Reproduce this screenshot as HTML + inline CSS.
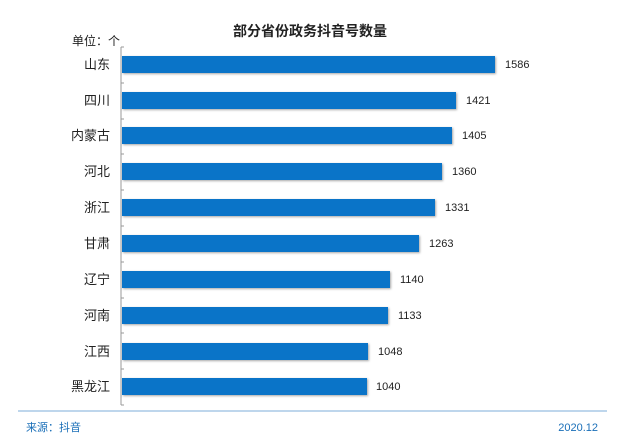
<!DOCTYPE html>
<html><head><meta charset="utf-8"><style>
body{margin:0;background:#fff;}
svg{display:block;font-family:"Liberation Sans","Noto Sans CJK SC",sans-serif;}
</style></head><body>
<svg width="619" height="445" viewBox="0 0 619 445">
<text x="310" y="36" text-anchor="middle" font-size="14" font-weight="bold" fill="#222">部分省份政务抖音号数量</text>
<text x="72" y="45" font-size="12" fill="#222">单位：个</text>
<line x1="121" y1="47" x2="121" y2="405" stroke="#999" stroke-width="1"/>
<g stroke="#999">
<line x1="121" y1="47" x2="124" y2="47"/><line x1="121" y1="83" x2="124" y2="83"/><line x1="121" y1="119" x2="124" y2="119"/><line x1="121" y1="154" x2="124" y2="154"/><line x1="121" y1="190" x2="124" y2="190"/><line x1="121" y1="226" x2="124" y2="226"/><line x1="121" y1="262" x2="124" y2="262"/><line x1="121" y1="298" x2="124" y2="298"/><line x1="121" y1="333" x2="124" y2="333"/><line x1="121" y1="369" x2="124" y2="369"/><line x1="121" y1="405" x2="124" y2="405"/>
</g>
<g font-size="12" fill="#222">
<g id="r">
</g>
</g>
<g fill="#0a74c8" style="filter:drop-shadow(1px 1px 1px rgba(0,0,0,0.35))">
<rect x="122" y="56" width="373" height="17"/>
<rect x="122" y="92" width="334" height="17"/>
<rect x="122" y="127" width="330" height="17"/>
<rect x="122" y="163" width="320" height="17"/>
<rect x="122" y="199" width="313" height="17"/>
<rect x="122" y="235" width="297" height="17"/>
<rect x="122" y="271" width="268" height="17"/>
<rect x="122" y="307" width="266" height="17"/>
<rect x="122" y="343" width="246" height="17"/>
<rect x="122" y="378" width="245" height="17"/>
</g>
<g font-size="13" fill="#222" text-anchor="end">
<text x="110" y="69">山东</text><text x="110" y="105">四川</text><text x="110" y="140">内蒙古</text><text x="110" y="176">河北</text><text x="110" y="212">浙江</text><text x="110" y="248">甘肃</text><text x="110" y="284">辽宁</text><text x="110" y="320">河南</text><text x="110" y="356">江西</text><text x="110" y="391">黑龙江</text>
</g>
<g font-size="11" fill="#222">
<text x="505" y="68">1586</text><text x="466" y="104">1421</text><text x="462" y="139">1405</text><text x="452" y="175">1360</text><text x="445" y="211">1331</text><text x="429" y="247">1263</text><text x="400" y="283">1140</text><text x="398" y="319">1133</text><text x="378" y="355">1048</text><text x="376" y="390">1040</text>
</g>
<line x1="18" y1="411" x2="607" y2="411" stroke="#a9c8e6" stroke-width="1.5"/>
<text x="26" y="431" font-size="11" fill="#1a6fb8">来源：抖音</text>
<text x="598" y="431" font-size="11" fill="#1a6fb8" text-anchor="end">2020.12</text>
</svg>
</body></html>
